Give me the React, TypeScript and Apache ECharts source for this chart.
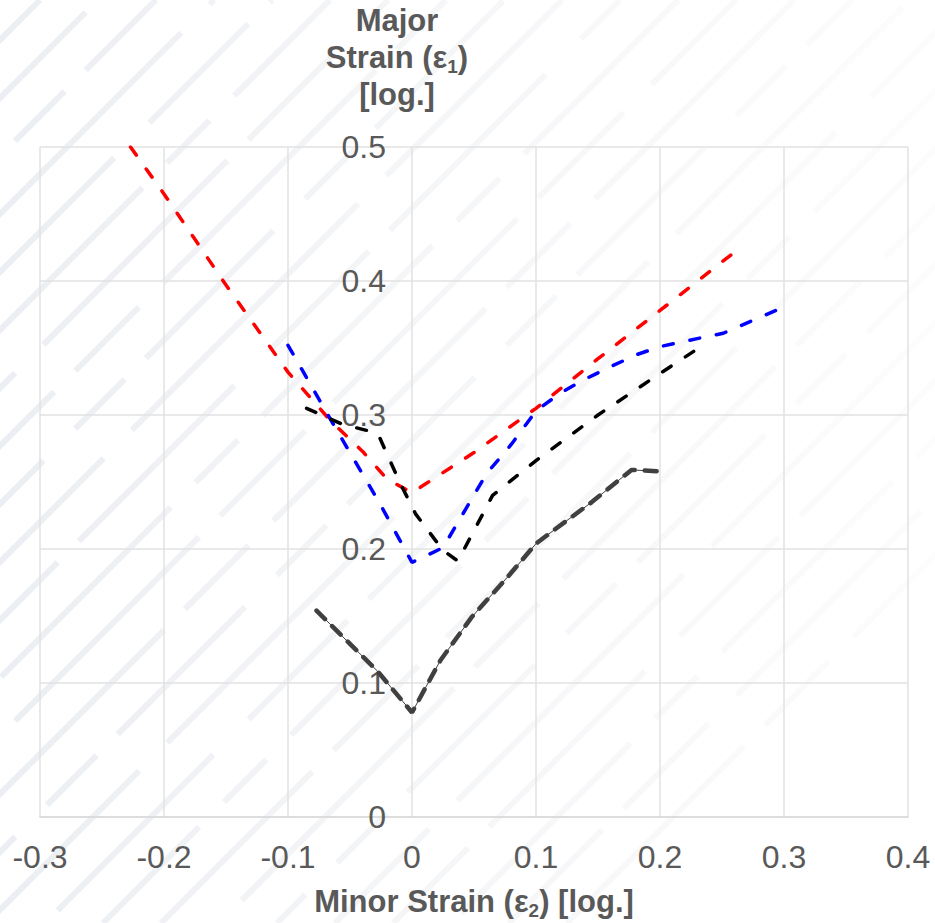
import React, { useEffect, useRef } from "react";
import * as echarts from "echarts";

// Tick labels
const xTickLabels = ["-0.3", "-0.2", "-0.1", "0", "0.1", "0.2", "0.3", "0.4"];
const yTickLabels = ["0", "0.1", "0.2", "0.3", "0.4", "0.5"];

// Red series
const redX = [-0.227, -0.2, -0.15, -0.1, -0.066, -0.04, -0.02, 0, 0.05, 0.1, 0.15, 0.2, 0.258];
const redY = [0.5, 0.465, 0.397, 0.332, 0.296, 0.273, 0.252, 0.242, 0.272, 0.305, 0.342, 0.378, 0.42];

// Blue series
const blueX = [-0.1, -0.064, -0.026, 0, 0.025, 0.06, 0.08, 0.1, 0.119, 0.138, 0.16, 0.181, 0.2, 0.23, 0.251, 0.296];
const blueY = [0.352, 0.294, 0.234, 0.19, 0.201, 0.256, 0.278, 0.303, 0.316, 0.326, 0.336, 0.345, 0.351, 0.357, 0.361, 0.379];

// Black series
const blackX = [-0.085, -0.056, -0.03, -0.027, -0.01, 0.003, 0.025, 0.037, 0.065, 0.1, 0.15, 0.2, 0.228];
const blackY = [0.305, 0.293, 0.287, 0.285, 0.25, 0.226, 0.199, 0.191, 0.24, 0.266, 0.3, 0.331, 0.348];

// Dark grey series
const greyX = [-0.077, -0.028, 0, 0.023, 0.048, 0.077, 0.1, 0.11, 0.145, 0.177, 0.198];
const greyY = [0.154, 0.109, 0.078, 0.117, 0.149, 0.179, 0.204, 0.211, 0.235, 0.259, 0.258];

const pairs = (xs: number[], ys: number[]) => xs.map((x, i) => [x, ys[i]]);

const LABEL = "#595959";
const GRID = "#e2e2e2";

function stripes() {
  const els: any[] = [];
  const dashes = [
    [260, 30, 120, 40],
    [90, 35, 300, 30],
    [180, 45, 70, 30],
    [320, 40],
    [140, 30, 220, 50],
    [60, 35, 240, 35],
  ];
  let k = 0;
  for (let c = 40; c <= 1500; c += 58) {
    els.push({
      type: "line",
      silent: true,
      z: -10,
      shape: { x1: c - 923, y1: 923, x2: c, y2: 0 },
      style: {
        stroke: {
          type: "linear",
          x: 0,
          y: 0,
          x2: 935,
          y2: 0,
          global: true,
          colorStops: [
            { offset: 0, color: "#ebeef2" },
            { offset: 0.4, color: "#f4f5f7" },
            { offset: 1, color: "#fcfcfc" },
          ],
        },
        lineWidth: 6,
        lineDash: dashes[k % dashes.length],
        lineDashOffset: (k * 47) % 200,
      },
    });
    k++;
  }
  return els;
}

const titleRich = {
  b: { fontSize: 31, fontWeight: "bold", color: LABEL, fill: LABEL, fontFamily: "Liberation Sans", lineHeight: 37 },
  s: { fontSize: 19, fontWeight: "bold", color: LABEL, fill: LABEL, fontFamily: "Liberation Sans", lineHeight: 20, verticalAlign: "bottom" },
};

export default function App() {
  const ref = useRef<HTMLDivElement>(null);
  useEffect(() => {
    if (!ref.current) return;
    const chart = echarts.init(ref.current, null, { renderer: "svg" });
    const dashed = (color: string) => ({
      color,
      width: 3.5,
      type: [10, 17],
      cap: "round",
    });
    chart.setOption({
      animation: false,
      backgroundColor: "#ffffff",
      grid: { left: 40, right: 27, top: 147, bottom: 106, containLabel: false, outerBoundsMode: "none" },
      xAxis: {
        type: "value",
        min: -0.3,
        max: 0.4,
        interval: 0.1,
        axisLine: { show: true, onZero: true, lineStyle: { color: "#d9d9d9", width: 1.5 } },
        axisTick: { show: false },
        splitLine: { show: true, lineStyle: { color: GRID, width: 1.5 } },
        axisLabel: {
          color: LABEL,
          fontSize: 32,
          fontFamily: "Liberation Sans",
          margin: 24,
          formatter: (_v: number, i: number) => xTickLabels[i] ?? "",
        },
        name: "{b|Minor Strain (ε}{s|2}{b|) [log.]}",
        nameLocation: "middle",
        nameGap: 66,
        nameTextStyle: { rich: titleRich },
      },
      yAxis: {
        type: "value",
        position: "left",
        offset: -372,
        min: 0,
        max: 0.5,
        interval: 0.1,
        axisLine: { show: false, onZero: false },
        axisTick: { show: false },
        splitLine: { show: true, lineStyle: { color: GRID, width: 1.5 } },
        axisLabel: {
          color: LABEL,
          fontSize: 32,
          fontFamily: "Liberation Sans",
          margin: 26,
          formatter: (_v: number, i: number) => yTickLabels[i] ?? "",
        },
      },
      graphic: [
        ...stripes(),
        {
          type: "text",
          x: 397,
          y: 2,
          z: 100,
          style: {
            text: "{b|Major}\n{b|Strain (ε}{s|1}{b|)}\n{b|[log.]}",
            align: "center",
            verticalAlign: "top",
            fill: LABEL,
            rich: titleRich,
          },
        },
      ],
      series: [
        {
          type: "line",
          data: pairs(greyX, greyY),
          symbol: "none",
          z: 3,
          lineStyle: { color: "#404040", width: 1, type: "solid" },
        },
        {
          type: "line",
          data: pairs(greyX, greyY),
          symbol: "none",
          z: 3,
          lineStyle: { color: "#404040", width: 4.5, type: [12, 10], cap: "round" },
        },
        { type: "line", data: pairs(redX, redY), symbol: "none", z: 4, lineStyle: dashed("#ff0000") },
        { type: "line", data: pairs(blueX, blueY), symbol: "none", z: 5, lineStyle: dashed("#0000ff") },
        { type: "line", data: pairs(blackX, blackY), symbol: "none", z: 6, lineStyle: dashed("#000000") },
      ],
    });
    return () => chart.dispose();
  }, []);
  return <div ref={ref} style={{ width: 935, height: 923, position: "absolute", left: 0, top: 0 }} />;
}
